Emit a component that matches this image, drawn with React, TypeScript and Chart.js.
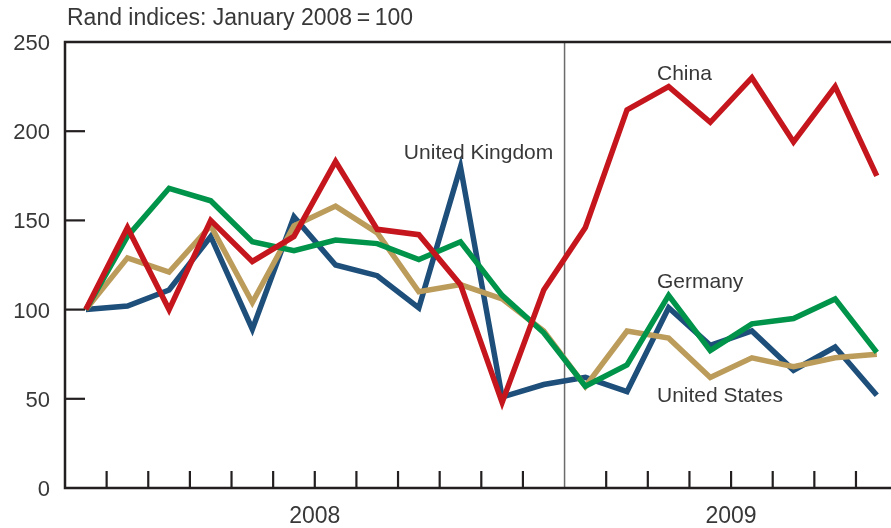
import React, { useEffect, useRef } from "react";
import { Chart, registerables } from "chart.js";

Chart.register(...registerables);

const months = [
  "Jan 2008", "Feb 2008", "Mar 2008", "Apr 2008", "May 2008", "Jun 2008",
  "Jul 2008", "Aug 2008", "Sep 2008", "Oct 2008", "Nov 2008", "Dec 2008",
  "Jan 2009", "Feb 2009", "Mar 2009", "Apr 2009", "May 2009", "Jun 2009",
  "Jul 2009", "Aug 2009",
];

const china = [100, 146, 100, 150, 127, 141, 183, 145, 142, 114, 48, 111, 146, 212, 225, 205, 230, 194, 225, 175];
const germany = [100, 141, 168, 161, 138, 133, 139, 137, 128, 138, 108, 87, 57, 69, 108, 77, 92, 95, 106, 76];
const unitedStates = [100, 129, 121, 147, 104, 147, 158, 143, 110, 114, 106, 88, 57, 88, 84, 62, 73, 68, 73, 75];
const unitedKingdom = [100, 102, 111, 141, 89, 152, 125, 119, 101, 180, 51, 58, 62, 54, 101, 80, 88, 66, 79, 52];

const yTicks = [0, 50, 100, 150, 200, 250];
const years = [
  { label: "2008", from: 0, to: 11 },
  { label: "2009", from: 12, to: 19 },
];
const title = "Rand indices: January 2008\u2009=\u2009100";

// series labels anchored in data space: [category index, value]
const seriesLabels = [
  { text: "China", at: [13.72, 228.7] },
  { text: "United Kingdom", at: [7.64, 184.4] },
  { text: "Germany", at: [13.72, 112.1] },
  { text: "United States", at: [13.72, 48.2] },
];

const FONT = "'Liberation Sans', Arial, Helvetica, sans-serif";
const AXIS = "#231f20";
const TEXT = "#383838";

const decorPlugin = {
  id: "decor",
  beforeDatasetsDraw(chart: any) {
    const { ctx, chartArea, scales } = chart;
    const x = scales.x;
    const y = scales.y;
    const n = months.length;
    ctx.save();
    // year boundary line
    const bx = (x.getPixelForValue(11) + x.getPixelForValue(12)) / 2;
    ctx.strokeStyle = "#6b6b6b";
    ctx.lineWidth = 1.5;
    ctx.beginPath();
    ctx.moveTo(bx, chartArea.top);
    ctx.lineTo(bx, chartArea.bottom);
    ctx.stroke();

    // axes frame (left, top, bottom)
    ctx.strokeStyle = AXIS;
    ctx.lineWidth = 2.5;
    ctx.beginPath();
    ctx.moveTo(chartArea.right + 10, chartArea.top);
    ctx.lineTo(chartArea.left, chartArea.top);
    ctx.lineTo(chartArea.left, chartArea.bottom);
    ctx.lineTo(chartArea.right + 10, chartArea.bottom);
    ctx.stroke();

    // x ticks
    ctx.lineWidth = 2.2;
    for (let k = 1; k < n; k++) {
      if (k === 12) continue;
      const px = (x.getPixelForValue(k - 1) + x.getPixelForValue(k)) / 2;
      ctx.beginPath();
      ctx.moveTo(px, chartArea.bottom);
      ctx.lineTo(px, chartArea.bottom - 17);
      ctx.stroke();
    }
    // y ticks (inside)
    yTicks.forEach((v) => {
      if (v === 0 || v === 250) return;
      const py = y.getPixelForValue(v);
      ctx.beginPath();
      ctx.moveTo(chartArea.left, py);
      ctx.lineTo(chartArea.left + 20, py);
      ctx.stroke();
    });

    // y tick labels
    ctx.fillStyle = TEXT;
    ctx.font = `22px ${FONT}`;
    ctx.textAlign = "right";
    ctx.textBaseline = "alphabetic";
    yTicks.forEach((v) => {
      const py = y.getPixelForValue(v);
      ctx.fillText(String(v), chartArea.left - 15, py + 8);
    });

    // year labels
    ctx.textAlign = "center";
    ctx.font = `23px ${FONT}`;
    years.forEach((yr) => {
      const cx = (x.getPixelForValue(yr.from) + x.getPixelForValue(yr.to)) / 2;
      ctx.fillText(yr.label, cx, chartArea.bottom + 35);
    });

    // title
    ctx.textAlign = "left";
    ctx.font = `23px ${FONT}`;
    ctx.fillText(title, chartArea.left + 2, chartArea.top - 17);
    ctx.restore();
  },
  afterDatasetsDraw(chart: any) {
    const { ctx, scales } = chart;
    ctx.save();
    ctx.fillStyle = TEXT;
    ctx.font = `21px ${FONT}`;
    ctx.textAlign = "left";
    ctx.textBaseline = "alphabetic";
    seriesLabels.forEach((l) => {
      ctx.fillText(l.text, scales.x.getPixelForValue(l.at[0]), scales.y.getPixelForValue(l.at[1]));
    });
    ctx.restore();
  },
};

export default function App() {
  const ref = useRef<HTMLCanvasElement | null>(null);
  useEffect(() => {
    document.body.style.margin = "0";
    document.body.style.overflow = "hidden";
    const canvas = ref.current!;
    const line = (label: string, data: number[], color: string) => ({
      label,
      data,
      borderColor: color,
      backgroundColor: color,
      borderWidth: 5.5,
      pointRadius: 0,
      tension: 0,
      fill: false,
      borderJoinStyle: "miter" as const,
      borderCapStyle: "butt" as const,
    });
    const chart = new Chart(canvas, {
      type: "line",
      data: {
        labels: months,
        datasets: [
          line("China", china, "#c5161d"),
          line("Germany", germany, "#00934a"),
          line("United States", unitedStates, "#bc9c5b"),
          line("United Kingdom", unitedKingdom, "#1e4f7b"),
        ],
      },
      options: {
        responsive: false,
        animation: false,
        devicePixelRatio: 1,
        layout: { padding: { left: 65, top: 42, right: 2.4, bottom: 40 } },
        plugins: { legend: { display: false }, tooltip: { enabled: false } },
        scales: {
          x: { type: "category", offset: true, display: false },
          y: { min: 0, max: 250, display: false },
        },
      },
      plugins: [decorPlugin],
    });
    return () => chart.destroy();
  }, []);
  return (
    <div style={{ position: "absolute", left: 0, top: 0, width: 891, height: 528, overflow: "hidden", background: "#fff" }}>
      <canvas ref={ref} width={900} height={528} style={{ width: 900, height: 528, display: "block" }} />
    </div>
  );
}
